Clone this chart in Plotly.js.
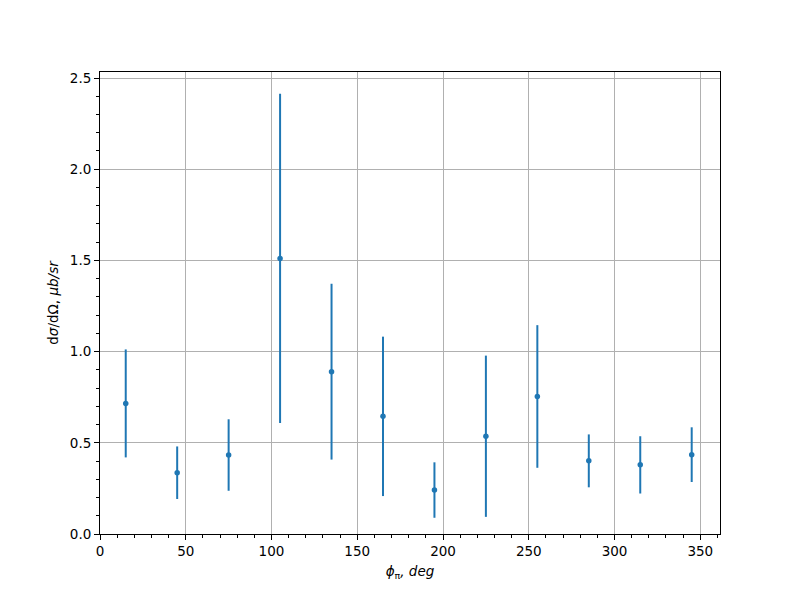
<!DOCTYPE html>
<html>
<head>
<meta charset="utf-8">
<script src="https://cdn.plot.ly/plotly-3.0.1.min.js"></script>
<style>body{margin:0;padding:0;background:#fff}</style>
</head>
<body>
<div id="chart" style="width:800px;height:600px;"></div>
<script>
const phi = [15, 45, 75, 105, 135, 165, 195, 225, 255, 285, 315, 345];
const xsec = [0.716, 0.336, 0.433, 1.511, 0.890, 0.645, 0.241, 0.536, 0.754, 0.401, 0.379, 0.435];
const xsecErr = [0.296, 0.144, 0.196, 0.903, 0.482, 0.437, 0.152, 0.442, 0.391, 0.145, 0.157, 0.150];

const font = {family: 'DejaVu Sans', size: 13.5, color: '#000'};

const trace = {
  x: phi, y: xsec, type: 'scatter', mode: 'markers',
  marker: {color: '#1f77b4', size: 5.5},
  error_y: {type: 'data', array: xsecErr, visible: true, color: '#1f77b4', thickness: 2, width: 0},
  hoverinfo: 'none'
};

const axisCommon = {
  showline: true, linecolor: '#000', linewidth: 1, mirror: true,
  ticks: 'outside', ticklen: 5, tickwidth: 1, tickcolor: '#000',
  showgrid: true, gridcolor: '#b0b0b0', gridwidth: 1,
  zeroline: false, tickfont: font
};

const layout = {
  width: 800, height: 600,
  margin: {l: 100, r: 80, t: 72, b: 66},
  paper_bgcolor: '#fff', plot_bgcolor: '#fff',
  showlegend: false,
  font: font,
  xaxis: Object.assign({}, axisCommon, {
    range: [0, 361.5], tick0: 0, dtick: 50,
    minor: {dtick: 10, ticks: 'outside', ticklen: 3, tickcolor: '#000', tickwidth: 1, showgrid: false},
    title: {text: '<i>ϕ</i><sub>π</sub><i>, deg</i>', font: font, standoff: 8}
  }),
  yaxis: Object.assign({}, axisCommon, {
    range: [0, 2.533], tick0: 0, dtick: 0.5, tickformat: '.1f',
    minor: {dtick: 0.1, ticks: 'outside', ticklen: 3, tickcolor: '#000', tickwidth: 1, showgrid: false},
    title: {text: 'd<i>σ</i>/dΩ, <i>μb/sr</i>', font: font, standoff: 8}
  })
};

Plotly.newPlot('chart', [trace], layout, {staticPlot: true, displayModeBar: false});
</script>
</body>
</html>
